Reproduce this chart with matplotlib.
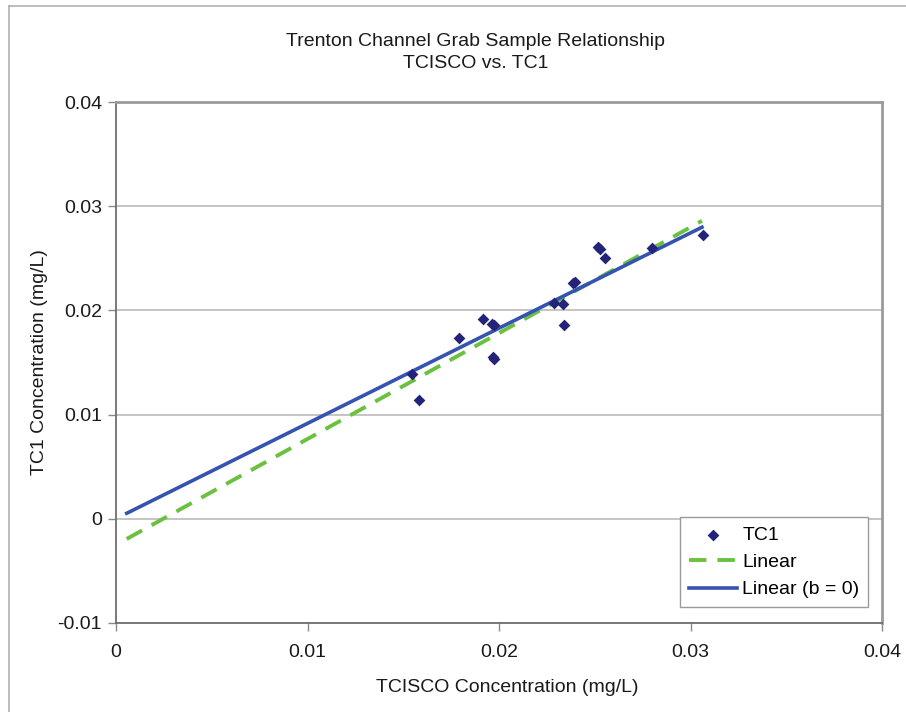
import matplotlib
matplotlib.use("Agg")
import matplotlib.pyplot as plt
import numpy as np
from matplotlib.lines import Line2D

plt.rcParams['font.family'] = ['Liberation Sans', 'DejaVu Sans']

# Data
tcisco = [0.01547, 0.01582, 0.01793, 0.01915, 0.01974, 0.01962, 0.01974, 0.01968,
          0.02287, 0.02336, 0.02341, 0.02388, 0.02395, 0.02519, 0.02527, 0.02555,
          0.02797, 0.03067]
tc1 = [0.01385, 0.01135, 0.01738, 0.0192, 0.01862, 0.0187, 0.01536, 0.0155,
       0.02067, 0.0206, 0.01862, 0.02266, 0.02278, 0.0261, 0.0259, 0.02507,
       0.02603, 0.02724]

# Trendlines (slope, intercept) and their drawn x-range
linear_slope, linear_intercept = 1.0173, -0.00252
zero_slope, zero_intercept = 0.915, 0.0
trend_x_range = [0.00056, 0.0306]

title = "Trenton Channel Grab Sample Relationship\nTCISCO vs. TC1"
x_label = "TCISCO Concentration (mg/L)"
y_label = "TC1 Concentration (mg/L)"
x_ticks = [0, 0.01, 0.02, 0.03, 0.04]
x_tick_labels = ["0", "0.01", "0.02", "0.03", "0.04"]
y_ticks = [-0.01, 0, 0.01, 0.02, 0.03, 0.04]
y_tick_labels = ["-0.01", "0", "0.01", "0.02", "0.03", "0.04"]
legend_labels = ["TC1", "Linear", "Linear (b = 0)"]

FS = 14

fig = plt.figure(figsize=(9.06, 7.12), dpi=100)
ax = fig.add_axes([116/906, 1 - 622.7/712, (882 - 116)/906, (622.7 - 102.3)/712])

# outer chart border (cropped: only left and top visible)
fig.add_artist(Line2D([8.5/906, 8.5/906], [0, 1 - 6/712], transform=fig.transFigure,
                      color='#b0b0b0', lw=1.2))
fig.add_artist(Line2D([8.5/906, 1], [1 - 6/712, 1 - 6/712], transform=fig.transFigure,
                      color='#b0b0b0', lw=1.2))

ax.set_xlim(0, 0.04)
ax.set_ylim(-0.01, 0.04)
ax.set_xticks(x_ticks)
ax.set_xticklabels(x_tick_labels)
ax.set_yticks(y_ticks)
ax.set_yticklabels(y_tick_labels)
ax.yaxis.grid(True, color='#b4b4b4', lw=1.1)
ax.set_axisbelow(True)

for s in ['left', 'bottom']:
    ax.spines[s].set_color('#6e6e6e')
    ax.spines[s].set_linewidth(1.3)
for s in ['top', 'right']:
    ax.spines[s].set_color('#9a9a9a')
    ax.spines[s].set_linewidth(2.0)

ax.tick_params(axis='both', direction='out', length=6, color='#8a8a8a', width=1,
               labelsize=FS, labelcolor='#1a1a1a')
ax.tick_params(axis='x', pad=9)
ax.tick_params(axis='y', pad=4)

xs = np.array(trend_x_range)
ax.plot(xs, linear_slope * xs + linear_intercept, color='#6ac140', lw=2.8,
        dashes=(4.5, 2.8), label=legend_labels[1], zorder=3)
ax.plot(xs, zero_slope * xs + zero_intercept, color='#3553b0', lw=2.6,
        label=legend_labels[2], zorder=3)
ax.scatter(tcisco, tc1, marker='D', s=36, color='#23237a', label=legend_labels[0],
           zorder=4, linewidths=0)

handles, labels = ax.get_legend_handles_labels()
order = [2, 0, 1]
leg = ax.legend([handles[i] for i in order], [labels[i] for i in order],
                loc='lower right', bbox_to_anchor=(0.982, 0.03), fontsize=FS,
                frameon=True, fancybox=False, edgecolor='#9a9a9a', framealpha=1,
                handlelength=2.5, handletextpad=0.25, borderpad=0.45, labelspacing=0.5,
                borderaxespad=0)
leg.get_frame().set_linewidth(1.0)

fig.text(476/906, 1 - 52.5/712, title, ha='center', va='center', fontsize=FS,
         color='#1a1a1a', linespacing=1.32)
fig.text(507/906, 1 - 688/712, x_label, ha='center', va='center', fontsize=FS,
         color='#1a1a1a')
fig.text(40/906, 1 - 362/712, y_label, ha='center', va='center', rotation=90,
         fontsize=FS, color='#1a1a1a')

fig.savefig("out.png", dpi=100, facecolor='white')
